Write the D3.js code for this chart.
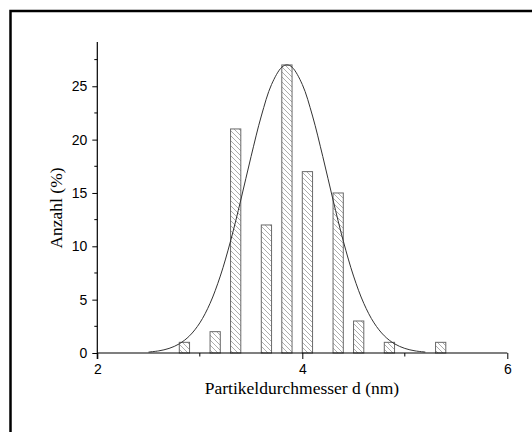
<!DOCTYPE html>
<html>
<head>
<meta charset="utf-8">
<script src="https://cdn.jsdelivr.net/npm/d3@7"></script>
<style>
  body { margin: 0; background: #fff; }
  svg { display: block; }
</style>
</head>
<body>
<div id="chart"></div>
<script>
/* histogram: bin centres (nm) and counts (%) */
const binCenters = [2.85, 3.15, 3.35, 3.65, 3.85, 4.05, 4.35, 4.55, 4.85, 5.35];
const binCounts  = [1, 2, 21, 12, 27, 17, 15, 3, 1, 1];
const binWidth = 0.1;

/* gauss fit curve */
const fitX = [2.5, 2.6, 2.7, 2.8, 2.9, 3.0, 3.1, 3.2, 3.3, 3.4, 3.5, 3.6, 3.7, 3.8, 3.85,
              3.9, 4.0, 4.1, 4.2, 4.3, 4.4, 4.5, 4.6, 4.7, 4.8, 4.9, 5.0, 5.1, 5.2];
const fitY = [0.09, 0.2, 0.43, 0.86, 1.61, 2.82, 4.65, 7.21, 10.49, 14.34, 18.41, 22.21, 25.17, 26.79, 27,
              26.79, 25.17, 22.21, 18.41, 14.34, 10.49, 7.21, 4.65, 2.82, 1.61, 0.86, 0.43, 0.2, 0.09];

const xTicks = [2, 4, 6];
const xMinor = [3, 5];
const yTicks = [0, 5, 10, 15, 20, 25];
const yMinor = [2.5, 7.5, 12.5, 17.5, 22.5, 27.5];

const xTitle = "Partikeldurchmesser d (nm)";
const yTitle = "Anzahl (%)";

const W = 532, H = 432;

const x = d3.scaleLinear().domain([2, 6]).range([97.3, 507.3]);
const y = d3.scaleLinear().domain([0, 29.15]).range([353, 42]);

const svg = d3.select("#chart").append("svg")
  .attr("width", W)
  .attr("height", H);

/* hatch pattern for bars */
const defs = svg.append("defs");
const pat = defs.append("pattern")
  .attr("id", "hatch")
  .attr("patternUnits", "userSpaceOnUse")
  .attr("width", 5)
  .attr("height", 5);
pat.append("rect").attr("width", 5).attr("height", 5).attr("fill", "#fff");
pat.append("path")
  .attr("d", "M-1,-1 L6,6 M-1,4 L1,6 M4,-1 L6,1")
  .attr("stroke", "#adadad")
  .attr("stroke-width", 1);

/* outer frame (only left + top visible) */
svg.append("rect")
  .attr("x", 10.5).attr("y", 11)
  .attr("width", 600).attr("height", 600)
  .attr("fill", "none")
  .attr("stroke", "#000")
  .attr("stroke-width", 2.5);

/* bars */
svg.append("g").selectAll("rect")
  .data(binCenters.map((c, i) => ({c, v: binCounts[i]})))
  .join("rect")
    .attr("x", d => x(d.c - binWidth / 2))
    .attr("width", d => x(d.c + binWidth / 2) - x(d.c - binWidth / 2))
    .attr("y", d => y(d.v))
    .attr("height", d => y(0) - y(d.v))
    .attr("fill", "url(#hatch)")
    .attr("stroke", "#6a6a6a")
    .attr("stroke-width", 1);

/* fit curve */
const line = d3.line()
  .x(d => x(d[0]))
  .y(d => y(d[1]))
  .curve(d3.curveCatmullRom);

svg.append("path")
  .datum(fitX.map((v, i) => [v, fitY[i]]))
  .attr("d", line)
  .attr("fill", "none")
  .attr("stroke", "#333")
  .attr("stroke-width", 1);

/* axes */
const xAxis = svg.append("g")
  .attr("transform", `translate(0,${y(0)})`)
  .call(d3.axisBottom(x).tickValues(xTicks).tickFormat(d3.format("d")).tickSize(6).tickPadding(5));
xAxis.append("g").selectAll("line")
  .data(xMinor)
  .join("line")
    .attr("x1", d => x(d)).attr("x2", d => x(d))
    .attr("y1", 0).attr("y2", 3.5)
    .attr("stroke", "#000");

const yAxis = svg.append("g")
  .attr("transform", `translate(${x(2)},0)`)
  .call(d3.axisLeft(y).tickValues(yTicks).tickSize(5).tickPadding(5));
yAxis.append("g").selectAll("line")
  .data(yMinor)
  .join("line")
    .attr("y1", d => y(d)).attr("y2", d => y(d))
    .attr("x1", 0).attr("x2", -3)
    .attr("stroke", "#000");

[xAxis, yAxis].forEach(g => {
  g.select(".domain").attr("stroke", "#000").attr("stroke-width", 1.2);
  g.selectAll(".tick line").attr("stroke", "#000");
  g.selectAll(".tick text")
    .attr("font-family", "Liberation Sans, Arial, sans-serif")
    .attr("font-size", 14)
    .attr("fill", "#000");
});
/* make the domain lines plain (no end caps) */
xAxis.select(".domain").attr("d", `M${x(2)},0H${x(6)}`);
yAxis.select(".domain").attr("d", `M0,${y(29.15)}V${y(0) + 6}`);

/* titles */
svg.append("text")
  .attr("x", 302)
  .attr("y", 394)
  .attr("text-anchor", "middle")
  .attr("font-family", "Liberation Serif, Times New Roman, serif")
  .attr("font-size", 17.5)
  .text(xTitle);

svg.append("text")
  .attr("transform", "translate(62,208) rotate(-90)")
  .attr("text-anchor", "middle")
  .attr("font-family", "Liberation Serif, Times New Roman, serif")
  .attr("font-size", 17.5)
  .text(yTitle);
</script>
</body>
</html>
